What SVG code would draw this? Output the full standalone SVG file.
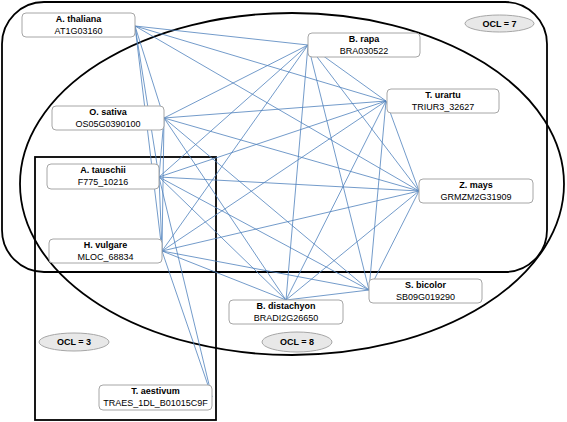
<svg xmlns="http://www.w3.org/2000/svg" width="567" height="422" viewBox="0 0 567 422">
<style>
.frame{fill:none;stroke:#000;stroke-width:1.8}
.edge{stroke:#4f81bd;stroke-width:0.8;fill:none}
.box{fill:#fff;stroke:#a6a6a6;stroke-width:1}
.nm{font-family:"Liberation Sans",Arial,sans-serif;font-size:9px;font-weight:bold;fill:#000;text-anchor:middle}
.id{font-family:"Liberation Sans",Arial,sans-serif;font-size:9px;fill:#000;text-anchor:middle}
.ocl{fill:#e8e8e8;stroke:#a6a6a6;stroke-width:1}
</style>
<rect width="567" height="422" fill="#fff"/>
<g id="frames">
<rect class="frame" x="2" y="2" width="545" height="270" rx="42" ry="42"/>
<ellipse class="frame" cx="292" cy="184" rx="272" ry="171"/>
<rect class="frame" x="35" y="157" width="181" height="263"/>
</g>
<g id="connectors">
<line class="edge" x1="135" y1="26" x2="308" y2="45"/>
<line class="edge" x1="135" y1="26" x2="386" y2="101"/>
<line class="edge" x1="135" y1="26" x2="419" y2="191"/>
<line class="edge" x1="135" y1="26" x2="164" y2="118"/>
<line class="edge" x1="135" y1="26" x2="159" y2="177"/>
<line class="edge" x1="135" y1="26" x2="162" y2="251"/>
<line class="edge" x1="308" y1="45" x2="386" y2="101"/>
<line class="edge" x1="308" y1="45" x2="164" y2="118"/>
<line class="edge" x1="308" y1="45" x2="159" y2="177"/>
<line class="edge" x1="308" y1="45" x2="162" y2="251"/>
<line class="edge" x1="308" y1="45" x2="419" y2="191"/>
<line class="edge" x1="308" y1="45" x2="369" y2="290"/>
<line class="edge" x1="308" y1="45" x2="286" y2="300"/>
<line class="edge" x1="386" y1="101" x2="164" y2="118"/>
<line class="edge" x1="386" y1="101" x2="159" y2="177"/>
<line class="edge" x1="386" y1="101" x2="162" y2="251"/>
<line class="edge" x1="386" y1="101" x2="419" y2="191"/>
<line class="edge" x1="386" y1="101" x2="369" y2="290"/>
<line class="edge" x1="386" y1="101" x2="286" y2="300"/>
<line class="edge" x1="164" y1="118" x2="159" y2="177"/>
<line class="edge" x1="164" y1="118" x2="162" y2="251"/>
<line class="edge" x1="164" y1="118" x2="419" y2="191"/>
<line class="edge" x1="164" y1="118" x2="369" y2="290"/>
<line class="edge" x1="164" y1="118" x2="286" y2="300"/>
<line class="edge" x1="159" y1="177" x2="162" y2="251"/>
<line class="edge" x1="159" y1="177" x2="419" y2="191"/>
<line class="edge" x1="159" y1="177" x2="369" y2="290"/>
<line class="edge" x1="159" y1="177" x2="286" y2="300"/>
<line class="edge" x1="159" y1="177" x2="212" y2="397"/>
<line class="edge" x1="162" y1="251" x2="419" y2="191"/>
<line class="edge" x1="162" y1="251" x2="369" y2="290"/>
<line class="edge" x1="162" y1="251" x2="286" y2="300"/>
<line class="edge" x1="162" y1="251" x2="212" y2="397"/>
<line class="edge" x1="419" y1="191" x2="369" y2="290"/>
<line class="edge" x1="419" y1="191" x2="286" y2="300"/>
<line class="edge" x1="369" y1="290" x2="286" y2="300"/>
</g>
<g id="ocl7"><ellipse class="ocl" cx="499.5" cy="23.5" rx="34.5" ry="8.5"/><text class="nm" x="499.5" y="26.8">OCL = 7</text></g>
<g id="ocl3"><ellipse class="ocl" cx="74" cy="342" rx="35" ry="9"/><text class="nm" x="74" y="345.3">OCL = 3</text></g>
<g id="ocl8"><ellipse class="ocl" cx="297" cy="342" rx="35" ry="10"/><text class="nm" x="297" y="345.3">OCL = 8</text></g>
<g id="athaliana"><rect class="box" x="22" y="13" width="113" height="24" rx="4"/><text class="nm" x="78.5" y="22.3">A. thaliana</text><text class="id" x="78.5" y="34">AT1G03160</text></g>
<g id="osativa"><rect class="box" x="52" y="106" width="112" height="24" rx="4"/><text class="nm" x="108" y="115.3">O. sativa</text><text class="id" x="108" y="127">OS05G0390100</text></g>
<g id="brapa"><rect class="box" x="308" y="33" width="112" height="24" rx="4"/><text class="nm" x="364" y="42.3">B. rapa</text><text class="id" x="364" y="54">BRA030522</text></g>
<g id="turartu"><rect class="box" x="387" y="89" width="112" height="24" rx="4"/><text class="nm" x="443" y="98.3">T. urartu</text><text class="id" x="443" y="110">TRIUR3_32627</text></g>
<g id="atauschii"><rect class="box" x="47" y="164" width="112" height="25" rx="4"/><text class="nm" x="103" y="173.3">A. tauschii</text><text class="id" x="103" y="185">F775_10216</text></g>
<g id="hvulgare"><rect class="box" x="49" y="239" width="113" height="24" rx="4"/><text class="nm" x="105.5" y="248.3">H. vulgare</text><text class="id" x="105.5" y="260">MLOC_68834</text></g>
<g id="zmays"><rect class="box" x="419" y="179" width="114" height="24" rx="4"/><text class="nm" x="476" y="188.3">Z. mays</text><text class="id" x="476" y="200">GRMZM2G31909</text></g>
<g id="sbicolor"><rect class="box" x="369" y="279" width="113" height="24" rx="4"/><text class="nm" x="425.5" y="288.3">S. bicolor</text><text class="id" x="425.5" y="300">SB09G019290</text></g>
<g id="bdistachyon"><rect class="box" x="229" y="300" width="114" height="24" rx="4"/><text class="nm" x="286" y="309.3">B. distachyon</text><text class="id" x="286" y="321">BRADI2G26650</text></g>
<g id="taestivum"><rect class="box" x="99" y="385" width="113" height="25" rx="4"/><text class="nm" x="155.5" y="394.3">T. aestivum</text><text class="id" x="155.5" y="406">TRAES_1DL_B01015C9F</text></g>
</svg>
